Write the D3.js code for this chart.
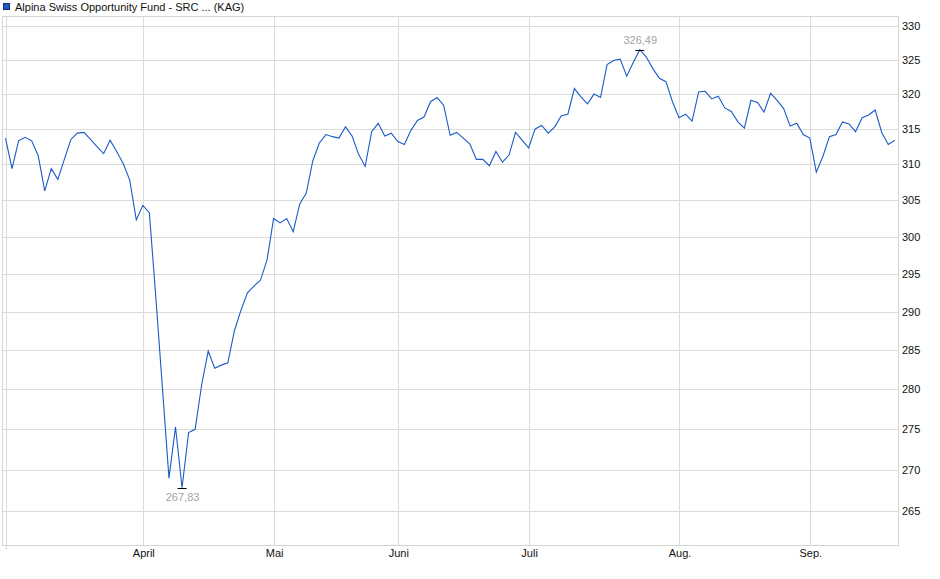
<!DOCTYPE html>
<html>
<head>
<meta charset="utf-8">
<script src="https://cdn.jsdelivr.net/npm/d3@7"></script>
<style>
  body { margin: 0; background: #fff; }
  svg { display: block; font-family: "Liberation Sans", Arial, sans-serif; }
  .grid line { stroke: #dcdcdc; stroke-width: 1; }
  .tick-label { font-size: 11px; fill: #111; }
</style>
</head>
<body>
<div id="chart"></div>
<script>
// daily values, one per trading day (starts early March, ends mid September)
const values = [
  313.7, 309.4, 313.3, 313.8, 313.3, 311.2, 306.3, 309.4, 307.9, 310.7,
  313.5, 314.4, 314.5, 313.5, 312.5, 311.5, 313.4, 311.8, 310.1, 307.8,
  302.3, 304.3, 303.3, 291.8, 280.2, 269.0, 275.3, 267.83, 274.6, 275.0,
  280.6, 284.9, 282.7, 283.1, 283.4, 287.5, 290.2, 292.5, 293.4, 294.2,
  296.9, 302.5, 301.9, 302.5, 300.7, 304.5, 306.0, 310.5, 313.0, 314.2,
  313.9, 313.7, 315.3, 314.0, 311.4, 309.7, 314.6, 315.8, 314.0, 314.4,
  313.2, 312.8, 314.8, 316.2, 316.7, 318.9, 319.5, 318.4, 314.1, 314.5,
  313.7, 312.9, 310.7, 310.7, 309.8, 311.8, 310.3, 311.3, 314.5, 313.4,
  312.3, 315.0, 315.5, 314.4, 315.3, 316.9, 317.1, 320.8, 319.6, 318.6,
  320.0, 319.5, 324.3, 324.9, 325.1, 322.6, 324.6, 326.49, 325.4, 323.7,
  322.3, 321.8, 318.9, 316.6, 317.1, 316.1, 320.3, 320.4, 319.3, 319.7,
  318.0, 317.5, 316.0, 315.1, 319.1, 318.8, 317.4, 320.1, 319.1, 317.9,
  315.4, 315.8, 314.2, 313.7, 308.9, 311.1, 313.9, 314.2, 316.0, 315.7,
  314.6, 316.6, 317.0, 317.7, 314.5, 312.8, 313.4
];

// first trading day of each month (index into values)
const monthIdx = [0, 21, 41, 60, 80, 103, 123];
const monthLabels = ['', 'April', 'Mai', 'Juni', 'Juli', 'Aug.', 'Sep.'];

const yTicks = [265, 270, 275, 280, 285, 290, 295, 300, 305, 310, 315, 320, 325, 330];

const seriesName = 'Alpina Swiss Opportunity Fund - SRC ... (KAG)';

const width = 940, height = 579;
const frame = { left: 2.5, top: 16.5, right: 898.5, bottom: 545.5 };

const svg = d3.select('#chart').append('svg')
  .attr('width', width)
  .attr('height', height);

const x = d3.scaleLinear()
  .domain([0, values.length - 1])
  .range([5.5, 894.8]);

const y = d3.scaleLog()
  .domain([265, 330])
  .range([511.3, 26]);

// grid
const grid = svg.append('g').attr('class', 'grid');
grid.selectAll('.hline')
  .data(yTicks)
  .enter().append('line')
  .attr('x1', frame.left).attr('x2', frame.right)
  .attr('y1', d => Math.round(y(d)) + 0.5)
  .attr('y2', d => Math.round(y(d)) + 0.5);

grid.selectAll('.vline')
  .data(monthIdx)
  .enter().append('line')
  .attr('x1', d => Math.round(x(d)) + 0.5)
  .attr('x2', d => Math.round(x(d)) + 0.5)
  .attr('y1', frame.top).attr('y2', frame.bottom);

// frame
svg.append('rect')
  .attr('x', frame.left).attr('y', frame.top)
  .attr('width', frame.right - frame.left)
  .attr('height', frame.bottom - frame.top)
  .attr('fill', 'none')
  .attr('stroke', '#d4d4d4');

svg.append('line')
  .attr('x1', Math.round(x(0)) + 0.5).attr('x2', Math.round(x(0)) + 0.5)
  .attr('y1', frame.bottom).attr('y2', frame.bottom + 4)
  .attr('stroke', '#d4d4d4');

// y labels on the right
svg.append('g')
  .selectAll('text')
  .data(yTicks)
  .enter().append('text')
  .attr('class', 'tick-label')
  .attr('x', 902)
  .attr('y', d => y(d) + 4)
  .text(d => d);

// month labels
svg.append('g')
  .selectAll('text')
  .data(monthIdx.map((d, i) => ({ idx: d, label: monthLabels[i] })).filter(d => d.label))
  .enter().append('text')
  .attr('class', 'tick-label')
  .attr('text-anchor', 'middle')
  .attr('x', d => x(d.idx) + 1)
  .attr('y', 557)
  .text(d => d.label);

// series line
const line = d3.line()
  .x((d, i) => x(i))
  .y(d => y(d));

svg.append('path')
  .datum(values)
  .attr('fill', 'none')
  .attr('stroke', '#1b5bc6')
  .attr('stroke-width', 1.1)
  .attr('d', line);

// high / low markers
const fmt = d3.formatLocale({ decimal: ',', thousands: '.', grouping: [3], currency: ['', ''] }).format('.2f');
const iMax = d3.maxIndex(values), iMin = d3.minIndex(values);

[{ i: iMax, dy: -5, up: true }, { i: iMin, dy: 13, up: false }].forEach(m => {
  const cx = x(m.i), cy = y(values[m.i]);
  svg.append('line')
    .attr('x1', cx - 4.5).attr('x2', cx + 4.5)
    .attr('y1', Math.round(cy) + 0.5).attr('y2', Math.round(cy) + 0.5)
    .attr('stroke', '#000');
  svg.append('text')
    .attr('x', cx + 0.5)
    .attr('y', cy + m.dy + (m.up ? -1 : 0))
    .attr('text-anchor', 'middle')
    .attr('font-size', 11)
    .attr('fill', '#a3a3a3')
    .text(fmt(values[m.i]));
});

// legend
svg.append('rect')
  .attr('x', 3.5).attr('y', 3.5)
  .attr('width', 6).attr('height', 6)
  .attr('fill', '#1b5bc6')
  .attr('stroke', '#14306e');

svg.append('text')
  .attr('x', 15)
  .attr('y', 10.5)
  .attr('font-size', 11)
  .attr('fill', '#111')
  .text(seriesName);
</script>
</body>
</html>
